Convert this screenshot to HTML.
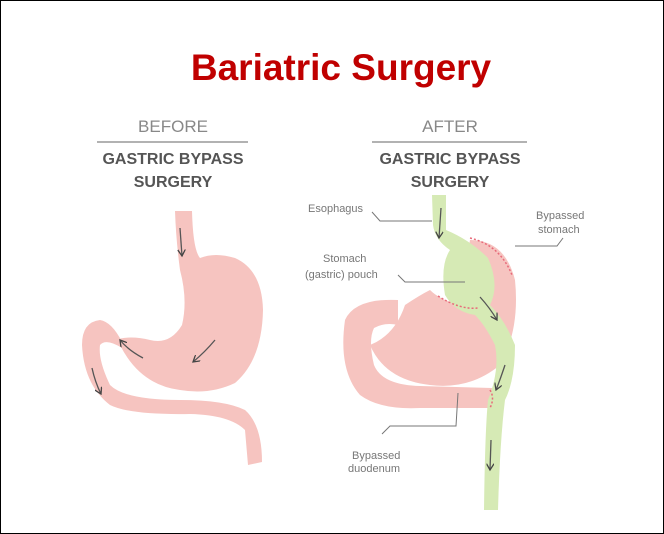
<!DOCTYPE html>
<html><head><style>
body{margin:0;background:#fff}
.w{position:relative;width:662px;height:532px;border:1px solid #000;overflow:hidden;font-family:"Liberation Sans",sans-serif}
</style></head><body><div class="w">
<svg width="662" height="532" viewBox="1 1 662 532" xmlns="http://www.w3.org/2000/svg" font-family="Liberation Sans, sans-serif">
<defs><marker id="a" markerWidth="6" markerHeight="6" refX="5" refY="3" orient="auto"><path d="M0 0 L5 3 L0 6" fill="none" stroke="#444"/></marker></defs>
<text x="341" y="80" text-anchor="middle" font-size="37" font-weight="bold" fill="#c00000">Bariatric Surgery</text>
<text x="173" y="132" text-anchor="middle" font-size="17" fill="#888">BEFORE</text>
<line x1="97" y1="142" x2="248" y2="142" stroke="#999" stroke-width="1.5"/>
<text x="173" y="164" text-anchor="middle" font-size="16" font-weight="bold" fill="#555">GASTRIC BYPASS</text>
<text x="173" y="187" text-anchor="middle" font-size="16" font-weight="bold" fill="#555">SURGERY</text>
<text x="450" y="132" text-anchor="middle" font-size="17" fill="#888">AFTER</text>
<line x1="372" y1="142" x2="527" y2="142" stroke="#999" stroke-width="1.5"/>
<text x="450" y="164" text-anchor="middle" font-size="16" font-weight="bold" fill="#555">GASTRIC BYPASS</text>
<text x="450" y="187" text-anchor="middle" font-size="16" font-weight="bold" fill="#555">SURGERY</text>
<!-- left stomach -->
<g fill="#f6c4c0">
<path d="M175 211 L192 211 Q193 250 200 258 Q215 252 235 258 Q262 270 263 310 Q262 360 235 383 Q210 395 180 390 Q140 385 120 345 L115 340 Q130 335 150 340 Q170 345 182 325 Q188 300 180 270 Q176 240 175 211 Z"/>
<path d="M122 342 Q112 322 100 320 Q82 322 82 345 Q84 385 110 405 Q130 415 190 414 Q230 415 245 430 L248 465 L262 462 Q262 425 245 410 Q225 400 180 400 Q125 400 110 385 Q98 360 100 345 Q106 338 122 348 Z"/>
</g>
<g stroke="#555" fill="none" stroke-width="1.3" marker-end="url(#a)">
<path d="M180 228 L182 256"/>
<path d="M215 340 Q205 352 193 362"/>
<path d="M143 358 Q128 350 120 340"/>
<path d="M92 368 Q95 382 101 394"/>
</g>
<!-- right -->
<g fill="#f6c4c0">
<path d="M470 240 Q505 240 515 280 Q520 330 500 365 Q470 390 430 385 Q385 380 370 345 Q395 335 405 305 Q420 295 430 290 Q440 300 460 305 Z"/>
<path d="M398 300 Q355 298 345 320 Q338 370 360 395 Q380 410 420 408 L490 408 L492 388 L420 386 Q382 385 374 365 Q368 340 374 328 Q385 322 398 325 Z"/>
</g>
<g fill="#d6eab5">
<path d="M432 195 L446 195 L446 230 Q470 240 488 258 Q500 285 490 305 Q505 320 515 345 Q515 380 505 400 Q500 440 498 510 L484 510 Q485 430 488 400 Q500 370 495 345 Q485 325 475 315 Q455 312 445 295 Q440 265 450 250 Q435 240 433 225 Z"/>
</g>
<path d="M470 238 Q500 245 512 275" stroke="#e86a7a" stroke-dasharray="2 2" fill="none" stroke-width="1.5"/>
<path d="M438 296 Q460 310 478 308" stroke="#e86a7a" stroke-dasharray="2 2" fill="none" stroke-width="1.5"/>
<path d="M490 390 Q495 398 490 408" stroke="#e86a7a" stroke-dasharray="2 2" fill="none" stroke-width="1.5"/>
<g stroke="#555" fill="none" stroke-width="1.3" marker-end="url(#a)">
<path d="M441 208 L439 238"/>
<path d="M480 297 Q490 308 497 320"/>
<path d="M505 365 Q500 380 496 390"/>
<path d="M491 440 L490 470"/>
</g>
<g stroke="#777" fill="none">
<path d="M372 212 L380 221 L432 221"/>
<path d="M515 246 L557 246 L563 238"/>
<path d="M398 275 L405 282 L465 282"/>
<path d="M458 393 L456 426 L390 426 L382 434"/>
</g>
<g font-size="11" fill="#777">
<text x="308" y="212">Esophagus</text>
<text x="536" y="219">Bypassed</text><text x="538" y="233">stomach</text>
<text x="323" y="262">Stomach</text><text x="305" y="278">(gastric) pouch</text>
<text x="352" y="459">Bypassed</text><text x="348" y="472">duodenum</text>
</g>
</svg>
</div></body></html>
